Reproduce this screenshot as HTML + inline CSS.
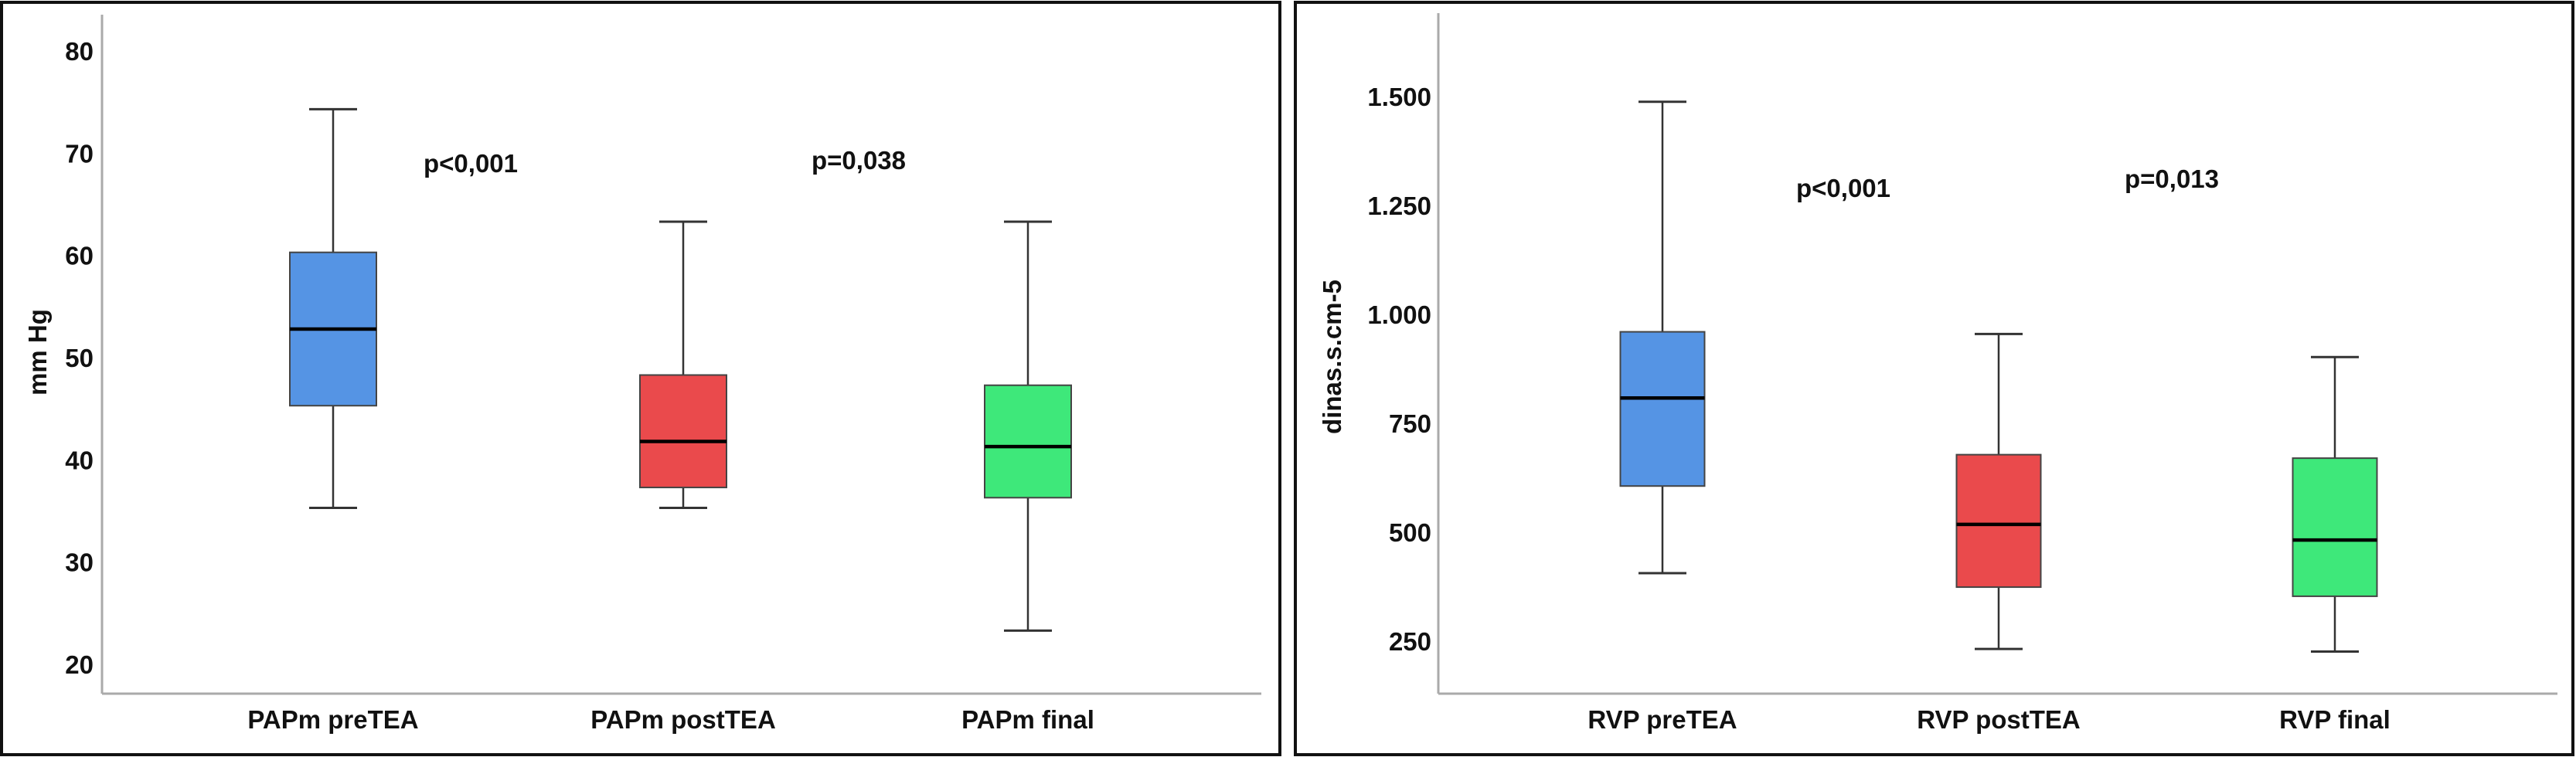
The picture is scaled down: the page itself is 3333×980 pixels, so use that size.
<!DOCTYPE html>
<html><head><meta charset="utf-8"><style>
html,body{margin:0;padding:0;background:#fff;}
svg{display:block;}
text{font-family:"Liberation Sans",Arial,sans-serif;font-weight:bold;fill:#111;}
</style></head><body>
<svg id="chart" width="3333" height="980" viewBox="0 0 3333 980" xmlns="http://www.w3.org/2000/svg">
<rect x="2" y="3" width="1654" height="974" fill="#fff" stroke="#111" stroke-width="4"/>
<rect x="1676" y="3" width="1653" height="974" fill="#fff" stroke="#111" stroke-width="4"/>
<g id="left"></g>
<g id="right"></g>
</svg>
<script>
const papmCategories = ["PAPm preTEA", "PAPm postTEA", "PAPm final"];
const papmMin = [35.3, 35.3, 23.3];
const papmQ1 = [45.3, 37.3, 36.3];
const papmMedian = [52.8, 41.8, 41.3];
const papmQ3 = [60.3, 48.3, 47.3];
const papmMax = [74.3, 63.3, 63.3];
const papmTicks = [20, 30, 40, 50, 60, 70, 80];
const papmTickLabels = ["20", "30", "40", "50", "60", "70", "80"];
const papmPvalues = ["p<0,001", "p=0,038"];

const rvpCategories = ["RVP preTEA", "RVP postTEA", "RVP final"];
const rvpMin = [406, 232, 226];
const rvpQ1 = [606, 374, 353];
const rvpMedian = [808, 518, 482];
const rvpQ3 = [960, 678, 670];
const rvpMax = [1488, 955, 902];
const rvpTicks = [250, 500, 750, 1000, 1250, 1500];
const rvpTickLabels = ["250", "500", "750", "1.000", "1.250", "1.500"];
const rvpPvalues = ["p<0,001", "p=0,013"];

const colors = ["#5594e4", "#ea4a4c", "#3ee87a"];
const NS = "http://www.w3.org/2000/svg";
function mk(parent, tag, attrs, txt) {
  const e = document.createElementNS(NS, tag);
  for (const k in attrs) e.setAttribute(k, attrs[k]);
  if (txt !== undefined) e.textContent = txt;
  parent.appendChild(e);
  return e;
}

function drawChart(g, cfg) {
  const y = v => cfg.y0 + (v - cfg.v0) * (cfg.y1 - cfg.y0) / (cfg.v1 - cfg.v0);
  const x = i => cfg.cx[i];
  let e;
  e = mk(g, "line", {x1: cfg.axisX, y1: cfg.axisTop, x2: cfg.axisX, y2: cfg.axisY, stroke: "#aaa", "stroke-width": 3});
  
  
  e = mk(g, "line", {x1: cfg.axisX, y1: cfg.axisY, x2: cfg.axisRight, y2: cfg.axisY, stroke: "#aaa", "stroke-width": 3});
  
  
  cfg.ticks.forEach((t, i) => {
    e = mk(g, "text", {x: cfg.tickRight, y: y(t) + 12, "text-anchor": "end", "font-size": 33}, cfg.tickLabels[i]);
    
    
  });
  e = mk(g, "text", {x: 0, y: 0, "text-anchor": "middle", "font-size": 33, transform: `translate(${cfg.titleX},${cfg.titleY}) rotate(-90)`}, cfg.title);
  
  
  cfg.cats.forEach((c, i) => {
    const cx = x(i), hw = cfg.boxW / 2, cw = 31;
    const grp = mk(g, "g", {});
    
    
    mk(grp, "line", {x1: cx, y1: y(cfg.max[i]), x2: cx, y2: y(cfg.q3[i]), stroke: "#333", "stroke-width": 2.5});
    mk(grp, "line", {x1: cx, y1: y(cfg.min[i]), x2: cx, y2: y(cfg.q1[i]), stroke: "#333", "stroke-width": 2.5});
    mk(grp, "line", {x1: cx - cw, y1: y(cfg.max[i]), x2: cx + cw, y2: y(cfg.max[i]), stroke: "#333", "stroke-width": 3});
    mk(grp, "line", {x1: cx - cw, y1: y(cfg.min[i]), x2: cx + cw, y2: y(cfg.min[i]), stroke: "#333", "stroke-width": 3});
    mk(grp, "rect", {x: cx - hw, y: y(cfg.q3[i]), width: cfg.boxW, height: y(cfg.q1[i]) - y(cfg.q3[i]), fill: colors[i], stroke: "#444", "stroke-width": 2});
    mk(grp, "line", {x1: cx - hw, y1: y(cfg.med[i]), x2: cx + hw, y2: y(cfg.med[i]), stroke: "#000", "stroke-width": 4.5});
    e = mk(g, "text", {x: cx, y: 943, "text-anchor": "middle", "font-size": 33}, c);
    
    
  });
  cfg.pvals.forEach((p, i) => {
    e = mk(g, "text", {x: cfg.px[i], y: cfg.py[i], "font-size": 33}, p);
    
    
  });
}

drawChart(document.getElementById("left"), {
  cats: papmCategories, min: papmMin, q1: papmQ1, med: papmMedian, q3: papmQ3, max: papmMax,
  ticks: papmTicks, tickLabels: papmTickLabels, pvals: papmPvalues, title: "mm Hg",
  v0: 20, v1: 80, y0: 860, y1: 66, cx: [431, 884, 1330], boxW: 112,
  axisX: 132, axisTop: 19, axisY: 898, axisRight: 1632, tickRight: 121,
  titleX: 60, titleY: 456, px: [548, 1050], py: [223, 219]
});
drawChart(document.getElementById("right"), {
  cats: rvpCategories, min: rvpMin, q1: rvpQ1, med: rvpMedian, q3: rvpQ3, max: rvpMax,
  ticks: rvpTicks, tickLabels: rvpTickLabels, pvals: rvpPvalues, title: "dinas.s.cm-5",
  v0: 250, v1: 1500, y0: 830, y1: 125, cx: [2151, 2586, 3021], boxW: 109,
  axisX: 1861, axisTop: 17, axisY: 898, axisRight: 3309, tickRight: 1852,
  titleX: 1735, titleY: 462, px: [2324, 2749], py: [255, 243]
});
</script>
</body></html>
